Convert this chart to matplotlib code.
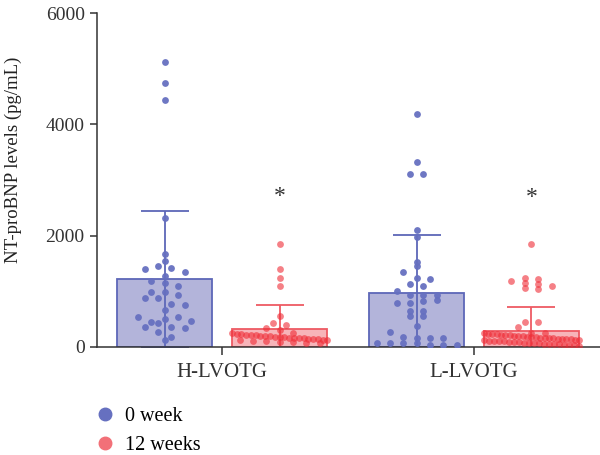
import matplotlib.pyplot as plt
import numpy as np

plt.rcParams['font.family'] = ['Liberation Serif', 'DejaVu Serif']

groups = ["H-LVOTG", "L-LVOTG"]
series = ["0 week", "12 weeks"]

# bar heights (mean) and error (SD)
means_0w = [1213, 972]
sd_0w = [1230, 1038]
means_12w = [313, 288]
sd_12w = [437, 426]
star_y = [2700, 2690]

# individual patient values
h_0w = [5130, 4752, 4446, 2310, 1663, 1537, 1398, 1458, 1422, 1350, 1272, 1182,
        1152, 1098, 984, 979, 882, 882, 930, 763, 750, 660, 534, 360, 450, 426,
        504, 529, 354, 457, 331, 270, 180, 120]
h_12w = [1843, 1393, 1242, 1098, 558, 432, 385, 331, 300,
         245, 238, 230, 222, 215, 210, 204, 198, 192, 186, 180, 175, 170, 165,
         160, 155, 150, 145, 140, 135, 128, 120, 112, 105, 98, 90, 82, 75, 68]
l_0w = [4188, 3330, 3108, 3108, 2100, 1980, 1519, 1447, 1344, 1242, 1134, 1213,
        1092, 997, 930, 930, 930, 786, 786, 817, 846, 648, 648, 552, 552, 378,
        259, 180, 162, 162, 72, 72, 151, 72, 72, 30, 30, 30]
l_12w = [1848, 1240, 1210, 1180, 1150, 1120, 1090, 1060, 1030, 450, 440, 349,
         250, 244, 238, 232, 226, 220, 214, 208, 202, 196, 190, 185, 180, 175,
         170, 165, 160, 155, 150, 145, 140, 135, 130, 125, 120, 115, 110, 105,
         100, 95, 90, 85, 80, 75, 70, 65, 60, 55, 50, 45, 40, 35, 30, 25, 20]

blue_dot = '#6670C0'
blue_fill = '#B3B4DA'
blue_edge = '#5D67B8'
red_dot = '#EF2B35'
red_fill = '#F7B4B9'
red_edge = '#EE5A63'


def swarm(values, center, bin_h=150, step=0.053, half_w=0.2):
    # prism-like scatter: bin values into rows, spread each row around the centre
    values = np.asarray(values, dtype=float)
    xs = np.zeros_like(values)
    bins = np.floor(values / bin_h)
    for b in np.unique(bins):
        idx = np.where(bins == b)[0]
        n = len(idx)
        sp = min(step, 2 * half_w / (n - 1)) if n > 1 else 0
        offs = (np.arange(n) - (n - 1) / 2) * sp
        xs[idx] = center + offs
    return xs


fig = plt.figure(figsize=(6, 4.55), dpi=100)
ax = fig.add_axes([0.162, 0.238, 0.838, 0.733])

x = np.arange(len(groups))
off = 0.228
w = 0.377

ax.bar(x - off, means_0w, w, color=blue_fill, edgecolor=blue_edge, linewidth=1.3, zorder=1)
ax.bar(x + off, means_12w, w, color=red_fill, edgecolor=red_edge, linewidth=1.3, zorder=1)
ax.errorbar(x - off, means_0w, yerr=sd_0w, fmt='none', ecolor=blue_edge,
            elinewidth=1.3, capsize=17, capthick=1.3, zorder=2)
ax.errorbar(x + off, means_12w, yerr=sd_12w, fmt='none', ecolor=red_edge,
            elinewidth=1.3, capsize=17, capthick=1.3, zorder=2)

for i, (v0, v12) in enumerate([(h_0w, h_12w), (l_0w, l_12w)]):
    ax.scatter(swarm(v0, x[i] - off), v0, s=24, color=blue_dot, alpha=0.95,
               linewidths=0, zorder=3)
    ax.scatter(swarm(v12, x[i] + off, bin_h=120, half_w=0.19), v12, s=24,
               color=red_dot, alpha=0.6, linewidths=0, zorder=3)
    ax.text(x[i] + off, star_y[i], "*", ha='center', va='center', fontsize=17,
            color='#333333')

ax.set_xlim(-0.496, 1.5)
ax.set_ylim(0, 6000)
ax.set_yticks([0, 2000, 4000, 6000])
ax.set_xticks(x)
ax.set_xticklabels(groups)
ax.tick_params(axis='y', labelsize=14, colors='#333333', width=1.1, length=5, pad=4)
ax.tick_params(axis='x', labelsize=15, colors='#333333', width=1.1, length=6, pad=6)
for s in ['top', 'right']:
    ax.spines[s].set_visible(False)
for s in ['left', 'bottom']:
    ax.spines[s].set_linewidth(1.1)
    ax.spines[s].set_color('#333333')
ax.set_ylabel("NT-proBNP levels (pg/mL)", fontsize=13.5, color='#222222')
ax.yaxis.set_label_coords(-0.149, 0.56)

handles = [plt.Line2D([], [], marker='o', ls='', color=blue_dot, markersize=9),
           plt.Line2D([], [], marker='o', ls='', color='#F27078', markersize=9)]
fig.legend(handles, series, loc='upper left', bbox_to_anchor=(0.128, 0.145),
           frameon=False, fontsize=14.5, handletextpad=0.5, labelspacing=0.5,
           handlelength=1.0)

fig.savefig("out.png", dpi=100)
